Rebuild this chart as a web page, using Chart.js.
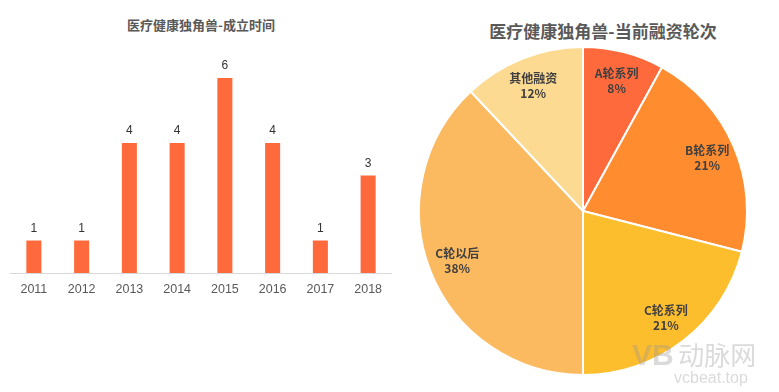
<!DOCTYPE html>
<html>
<head>
<meta charset="utf-8">
<script src="https://cdn.jsdelivr.net/npm/chart.js@4"></script>
<style>
	body { margin: 0; background: #fff; font-family: "Noto Sans CJK SC", "Liberation Sans", sans-serif; }
	#wrap { position: relative; width: 779px; height: 392px; overflow: hidden; }
	.title { position: absolute; color: #595959; font-weight: bold; white-space: nowrap; transform: translate(-50%, -50%); }
	#barBox { position: absolute; left: 10px; top: 0; width: 382px; height: 306px; }
	#pieBox { position: absolute; left: 400px; top: 0; width: 379px; height: 392px; }
	#mark { position: absolute; left: 632px; top: 340px; color: rgba(150, 150, 150, 0.35); font-family: "Liberation Sans", sans-serif; line-height: 1; }
</style>
</head>
<body>
<div id="wrap">
	<div class="title" style="left:201px; top:24px; font-size:13px;">医疗健康独角兽-成立时间</div>
	<div class="title" style="left:603px; top:30px; font-size:17px;">医疗健康独角兽-当前融资轮次</div>
	<div id="barBox"><canvas id="barChart"></canvas></div>
	<div id="pieBox"><canvas id="pieChart"></canvas></div>
	<div id="mark"><span style="font-size:30px; font-weight:bold;">VB</span> <span style="font-size:26px; font-family:'Noto Sans CJK SC';">动脉网</span><br><span style="font-size:16px; margin-left:42px;">vcbeat.top</span></div>
</div>
<script>
const years = ['2011', '2012', '2013', '2014', '2015', '2016', '2017', '2018'];
const yearCounts = [1, 1, 4, 4, 6, 4, 1, 3];

const rounds = ['A轮系列', 'B轮系列', 'C轮系列', 'C轮以后', '其他融资'];
const roundShares = [8, 21, 21, 38, 12];
const roundColors = ['#FF6A3D', '#FF8C2F', '#FDBE2D', '#FBBA5F', '#FDDA91'];

const barLabels = {
	id: 'barLabels',
	afterDatasetsDraw(chart) {
		const ctx = chart.ctx;
		const meta = chart.getDatasetMeta(0);
		ctx.save();
		ctx.font = '12px "Liberation Sans", sans-serif';
		ctx.fillStyle = '#333';
		ctx.textAlign = 'center';
		ctx.textBaseline = 'middle';
		meta.data.forEach((bar, i) => {
			ctx.fillText(yearCounts[i], bar.x, bar.y - 12);
		});
		ctx.restore();
	}
};

new Chart(document.getElementById('barChart'), {
	type: 'bar',
	data: {
		labels: years,
		datasets: [{
			data: yearCounts,
			backgroundColor: '#FF6A3D',
			barPercentage: 0.63,
			categoryPercentage: 0.5,
		}],
	},
	options: {
		responsive: true,
		maintainAspectRatio: false,
		animation: false,
		layout: { padding: { top: 45.5, left: 0, right: 0, bottom: 0 } },
		plugins: { legend: { display: false }, tooltip: { enabled: false } },
		scales: {
			x: {
				grid: { display: false, drawTicks: false },
				border: { color: '#d9d9d9', width: 1 },
				ticks: { color: '#595959', font: { size: 12.5, family: '"Liberation Sans", sans-serif' }, padding: 9 },
			},
			y: { display: false, min: 0, max: 7 },
		},
	},
	plugins: [barLabels],
});

const pieLabels = {
	id: 'pieLabels',
	afterDatasetsDraw(chart) {
		const ctx = chart.ctx;
		const meta = chart.getDatasetMeta(0);
		ctx.save();
		ctx.font = 'bold 12px "Noto Sans CJK SC", sans-serif';
		ctx.fillStyle = '#404040';
		ctx.textAlign = 'center';
		ctx.textBaseline = 'middle';
		meta.data.forEach((arc, i) => {
			const mid = (arc.startAngle + arc.endAngle) / 2;
			const r = arc.outerRadius * 0.825;
			const x = arc.x + Math.cos(mid) * r;
			const y = arc.y + Math.sin(mid) * r;
			ctx.fillText(rounds[i], x, y - 7);
			ctx.fillText(roundShares[i] + '%', x, y + 8);
		});
		ctx.restore();
	}
};

new Chart(document.getElementById('pieChart'), {
	type: 'pie',
	data: {
		labels: rounds,
		datasets: [{
			data: roundShares,
			backgroundColor: roundColors,
			borderColor: '#fff',
			borderWidth: 2,
		}],
	},
	options: {
		responsive: true,
		maintainAspectRatio: false,
		animation: false,
		layout: { padding: { top: 46, left: 18, right: 31, bottom: 16 } },
		plugins: { legend: { display: false }, tooltip: { enabled: false } },
	},
	plugins: [pieLabels],
});
</script>
</body>
</html>
